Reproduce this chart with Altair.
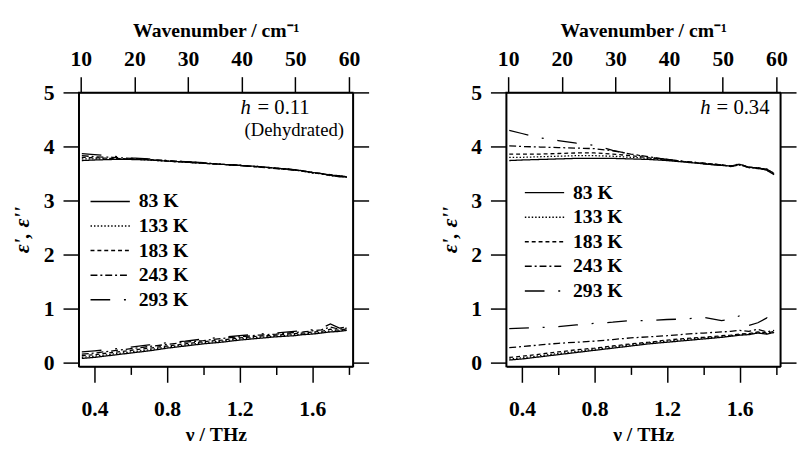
import altair as alt
import pandas as pd

# ---------------- data ----------------
freq = [0.33, 0.40, 0.50, 0.60, 0.70, 0.80, 0.90, 1.00, 1.10, 1.20,
        1.30, 1.40, 1.50, 1.55, 1.60, 1.65, 1.70, 1.75, 1.79]
temps = ["83 K", "133 K", "183 K", "243 K", "293 K"]

# left panel, h = 0.11 (dehydrated): real part eps'
L_re_83 = [3.74, 3.75, 3.76, 3.76, 3.75, 3.73, 3.71, 3.69, 3.67, 3.65, 3.63, 3.60, 3.57, 3.55, 3.52, 3.50, 3.47, 3.46, 3.44]
L_re_133 = [3.77, 3.77, 3.77, 3.77, 3.75, 3.73, 3.71, 3.69, 3.67, 3.65, 3.63, 3.60, 3.57, 3.54, 3.51, 3.50, 3.46, 3.45, 3.43]
L_re_183 = [3.80, 3.79, 3.78, 3.77, 3.76, 3.73, 3.71, 3.69, 3.67, 3.65, 3.62, 3.60, 3.57, 3.54, 3.52, 3.49, 3.48, 3.45, 3.44]
L_re_243 = [3.83, 3.81, 3.80, 3.78, 3.76, 3.74, 3.72, 3.70, 3.67, 3.65, 3.62, 3.59, 3.56, 3.55, 3.51, 3.50, 3.46, 3.46, 3.43]
L_re_293 = [3.87, 3.85, 3.82, 3.79, 3.77, 3.74, 3.72, 3.70, 3.67, 3.65, 3.62, 3.60, 3.57, 3.53, 3.52, 3.48, 3.47, 3.44, 3.44]
# left panel: imaginary part eps''
L_im_83 = [0.08, 0.10, 0.14, 0.18, 0.22, 0.27, 0.31, 0.35, 0.38, 0.42, 0.45, 0.48, 0.50, 0.52, 0.53, 0.55, 0.57, 0.58, 0.60]
L_im_133 = [0.10, 0.12, 0.16, 0.20, 0.24, 0.29, 0.33, 0.37, 0.40, 0.44, 0.47, 0.49, 0.52, 0.53, 0.55, 0.56, 0.59, 0.59, 0.61]
L_im_183 = [0.13, 0.15, 0.19, 0.23, 0.27, 0.31, 0.35, 0.39, 0.42, 0.46, 0.49, 0.51, 0.54, 0.55, 0.57, 0.58, 0.62, 0.60, 0.63]
L_im_243 = [0.16, 0.18, 0.22, 0.26, 0.30, 0.34, 0.38, 0.41, 0.45, 0.48, 0.51, 0.53, 0.56, 0.57, 0.59, 0.61, 0.66, 0.62, 0.64]
L_im_293 = [0.20, 0.22, 0.25, 0.29, 0.33, 0.37, 0.40, 0.44, 0.47, 0.50, 0.53, 0.55, 0.58, 0.59, 0.61, 0.64, 0.72, 0.64, 0.66]

# right panel, h = 0.34: real part eps'
R_re_83 = [3.74, 3.75, 3.76, 3.77, 3.78, 3.78, 3.78, 3.77, 3.76, 3.74, 3.71, 3.68, 3.65, 3.64, 3.67, 3.62, 3.60, 3.56, 3.48]
R_re_133 = [3.80, 3.80, 3.81, 3.82, 3.83, 3.83, 3.82, 3.80, 3.78, 3.75, 3.72, 3.69, 3.66, 3.63, 3.66, 3.61, 3.60, 3.58, 3.50]
R_re_183 = [3.86, 3.86, 3.86, 3.87, 3.88, 3.88, 3.86, 3.83, 3.79, 3.76, 3.72, 3.69, 3.66, 3.64, 3.67, 3.62, 3.59, 3.57, 3.51]
R_re_243 = [4.01, 4.00, 3.99, 3.98, 3.97, 3.96, 3.92, 3.86, 3.81, 3.76, 3.72, 3.69, 3.66, 3.63, 3.66, 3.61, 3.61, 3.56, 3.50]
R_re_293 = [4.30, 4.24, 4.16, 4.11, 4.06, 4.02, 3.93, 3.86, 3.80, 3.76, 3.72, 3.68, 3.65, 3.64, 3.68, 3.62, 3.60, 3.58, 3.50]
# right panel: imaginary part eps''
R_im_83 = [0.05, 0.07, 0.11, 0.15, 0.19, 0.23, 0.27, 0.31, 0.35, 0.38, 0.41, 0.44, 0.47, 0.49, 0.51, 0.52, 0.55, 0.53, 0.56]
R_im_133 = [0.07, 0.09, 0.13, 0.17, 0.21, 0.25, 0.29, 0.33, 0.37, 0.40, 0.43, 0.46, 0.48, 0.50, 0.52, 0.53, 0.56, 0.54, 0.57]
R_im_183 = [0.10, 0.12, 0.16, 0.20, 0.24, 0.27, 0.31, 0.35, 0.38, 0.42, 0.45, 0.47, 0.50, 0.51, 0.53, 0.54, 0.57, 0.55, 0.58]
R_im_243 = [0.28, 0.30, 0.33, 0.36, 0.38, 0.40, 0.43, 0.46, 0.48, 0.50, 0.53, 0.55, 0.57, 0.58, 0.60, 0.58, 0.62, 0.57, 0.60]
R_im_293 = [0.63, 0.64, 0.65, 0.67, 0.70, 0.73, 0.75, 0.78, 0.78, 0.80, 0.81, 0.84, 0.78, 0.80, 0.87, 0.69, 0.74, 0.83, 0.62]

bottom_ticks = [0.4, 0.6, 0.8, 1.0, 1.2, 1.4, 1.6, 1.8]
top_ticks = [10, 20, 30, 40, 50, 60]
y_ticks = [0, 1, 2, 3, 4, 5]
dashes = [[1, 0], [1.5, 2], [4, 3], [7, 3, 2, 3], [20, 14, 2, 14]]

# annotation texts
ann_left = ["= 0.11", "(Dehydrated)"]
ann_right = ["= 0.34"]

FONT = "Liberation Serif"


def build(re_lists, im_lists):
    rows = []
    for t, re_v, im_v in zip(temps, re_lists, im_lists):
        for f, a, b in zip(freq, re_v, im_v):
            rows.append({"nu": f, "eps": a, "temp": t, "part": t + " re"})
            rows.append({"nu": f, "eps": b, "temp": t, "part": t + " im"})
    return pd.DataFrame(rows)


dfL = build([L_re_83, L_re_133, L_re_183, L_re_243, L_re_293],
            [L_im_83, L_im_133, L_im_183, L_im_243, L_im_293])
dfR = build([R_re_83, R_re_133, R_re_183, R_re_243, R_re_293],
            [R_im_83, R_im_133, R_im_183, R_im_243, R_im_293])

XDOM = [0.313, 1.824]
YDOM = [-0.07, 5]
WDOM = [9.63, 60.73]
W, H = 279, 279


def panel(df, texts, line1_dx, leg_x, leg_y):
    xsc = alt.Scale(domain=XDOM, nice=False, zero=False)
    ysc = alt.Scale(domain=YDOM, nice=False, zero=False)
    lines = alt.Chart(df).mark_line(strokeWidth=1.3, color="black").encode(
        x=alt.X("nu:Q", scale=xsc, axis=alt.Axis(
            orient="bottom", values=bottom_ticks,
            tickSize={"condition": {"test": "round(datum.value*10) % 4 != 0", "value": 8}, "value": 16},
            labelExpr="round(datum.value*10) % 4 == 0 ? format(datum.value, '.1f') : ''",
            labelPadding=17, title="ν / THz", titleY=75, titleBaseline="alphabetic")),
        y=alt.Y("eps:Q", scale=ysc, axis=alt.Axis(
            orient="left", values=y_ticks, tickSize=16, labelPadding=9,
            title="ε', ε''", titleFontStyle="italic", titleFontSize=22, titlePadding=10)),
        strokeDash=alt.StrokeDash("temp:N", scale=alt.Scale(domain=temps, range=dashes),
                                  legend=alt.Legend(
                                      orient="none", legendX=leg_x, legendY=leg_y, title=None,
                                      symbolType="M-2,0H2", symbolSize=400, symbolStrokeWidth=1.5,
                                      symbolStrokeColor="black", labelFont=FONT, labelFontSize=20,
                                      labelFontWeight="bold", labelColor="black", labelOffset=18,
                                      rowPadding=4, padding=0)),
        detail="part:N",
    )
    noax_x = alt.X("nu:Q", scale=xsc, axis=None)
    noax_y = alt.Y("eps:Q", scale=ysc, axis=None)
    layers = [lines]
    d1 = pd.DataFrame({"nu": [XDOM[1]], "eps": [4.71], "t": [texts[0]]})
    layers.append(alt.Chart(d1).mark_text(font=FONT, fontSize=21, align="right", baseline="middle",
                                          color="black", dx=line1_dx).encode(x=noax_x, y=noax_y, text="t:N"))
    layers.append(alt.Chart(d1.assign(t="h")).mark_text(
        font=FONT, fontSize=21, fontStyle="italic", align="right", baseline="middle",
        color="black", dx=line1_dx - 60).encode(x=noax_x, y=noax_y, text="t:N"))
    if len(texts) > 1:
        d2 = pd.DataFrame({"nu": [XDOM[1]], "eps": [4.30], "t": [texts[1]]})
        layers.append(alt.Chart(d2).mark_text(font=FONT, fontSize=19, align="right", baseline="middle",
                                              color="black", dx=-9).encode(x=noax_x, y=noax_y, text="t:N"))
    ax_df = pd.DataFrame({"wn": [10, 60], "e2": [0, 5]})
    axes = alt.Chart(ax_df).mark_point(opacity=0).encode(
        x=alt.X("wn:Q", scale=alt.Scale(domain=WDOM, nice=False, zero=False), axis=alt.Axis(
            orient="top", values=top_ticks, tickSize=16, labelPadding=6,
            title="Wavenumber / cm⁻¹", titleY=-57, titleBaseline="alphabetic")),
        y=alt.Y("e2:Q", scale=ysc, axis=alt.Axis(
            orient="right", values=y_ticks, tickSize=16, labels=False, title=None)),
    )
    layers.append(axes)
    return alt.layer(*layers).resolve_scale(x="independent", y="independent").properties(
        width=W, height=H)


left = panel(dfL, ann_left, -44, 21, 100)
right = panel(dfR, ann_right, -11, 28, 91)

chart = alt.hconcat(left, right, spacing=68).resolve_scale(
    strokeDash="independent").resolve_legend(strokeDash="independent").properties(
    padding={"left": 2, "right": 0, "top": 8, "bottom": 0}
).configure_view(stroke="black", strokeWidth=1.5).configure_axis(
    labelFont=FONT, labelFontSize=22, labelFontWeight="bold", labelColor="black",
    titleFont=FONT, titleFontSize=20, titleFontWeight="bold", titleColor="black",
    domainColor="black", domainWidth=1.5, tickColor="black", tickWidth=1.5, grid=False)

chart.save("out.html", embed_options={"renderer": "svg", "actions": False})
